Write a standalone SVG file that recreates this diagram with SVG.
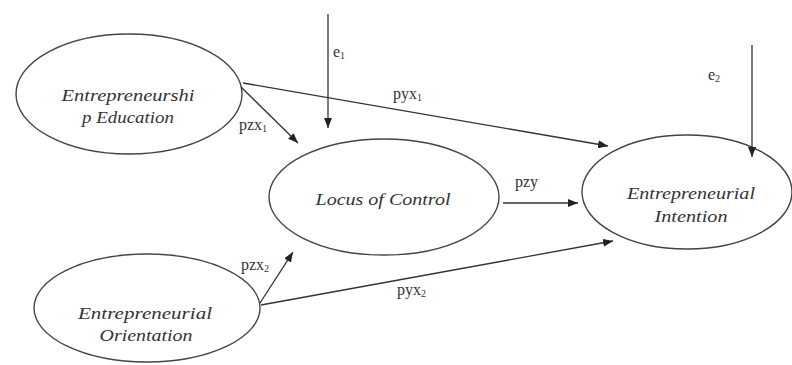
<svg xmlns="http://www.w3.org/2000/svg" width="792" height="365" viewBox="0 0 792 365">
<style>
.node ellipse{fill:none;stroke:#444;stroke-width:1.4}
.nt{font-family:"Liberation Serif","DejaVu Serif",serif;font-style:italic;font-size:17px;fill:#333;text-anchor:middle}
.lbl{font-family:"Liberation Serif","DejaVu Serif",serif;font-size:16px;fill:#333}
.sub{font-size:10px}
.edge{stroke:#333;stroke-width:1.3;fill:none;marker-end:url(#ah)}
</style>
<defs>
<marker id="ah" viewBox="0 0 10 8" refX="10" refY="4" markerWidth="10" markerHeight="8" markerUnits="userSpaceOnUse" orient="auto">
<path d="M0,0 L10,4 L0,8 z" fill="#222"/>
</marker>
</defs>
<rect width="792" height="365" fill="#fff"/>
<g id="n-education" class="node">
<ellipse cx="129" cy="94" rx="113" ry="60"/>
<text class="nt" x="128" y="101" textLength="133" lengthAdjust="spacingAndGlyphs">Entrepreneurshi</text>
<text class="nt" x="128" y="123" textLength="92" lengthAdjust="spacingAndGlyphs">p Education</text>
</g>
<g id="n-locus" class="node">
<ellipse cx="384" cy="197" rx="115" ry="58"/>
<text class="nt" x="383" y="205" textLength="135" lengthAdjust="spacingAndGlyphs">Locus of Control</text>
</g>
<g id="n-intention" class="node">
<ellipse cx="687" cy="192" rx="105" ry="57"/>
<text class="nt" x="691" y="199" textLength="128" lengthAdjust="spacingAndGlyphs">Entrepreneurial</text>
<text class="nt" x="691" y="222" textLength="73" lengthAdjust="spacingAndGlyphs">Intention</text>
</g>
<g id="n-orientation" class="node">
<ellipse cx="147" cy="308" rx="113" ry="54"/>
<text class="nt" x="145" y="319" textLength="134" lengthAdjust="spacingAndGlyphs">Entrepreneurial</text>
<text class="nt" x="146" y="341" textLength="93" lengthAdjust="spacingAndGlyphs">Orientation</text>
</g>
<g id="connectors">
<line class="edge" x1="328" y1="14" x2="328" y2="128"/>
<line class="edge" x1="752" y1="45" x2="752" y2="157"/>
<line class="edge" x1="243" y1="83" x2="608" y2="146"/>
<line class="edge" x1="241" y1="87" x2="298" y2="143"/>
<line class="edge" x1="503" y1="203" x2="578" y2="203"/>
<line class="edge" x1="260" y1="303" x2="293" y2="252"/>
<line class="edge" x1="261" y1="305" x2="613" y2="241"/>
<text class="lbl" x="333" y="57">e<tspan class="sub" dy="2">1</tspan></text>
<text class="lbl" x="708" y="80">e<tspan class="sub" dy="2">2</tspan></text>
<text class="lbl" x="393" y="99">pyx<tspan class="sub" dy="2">1</tspan></text>
<text class="lbl" x="239" y="130">pzx<tspan class="sub" dy="2">1</tspan></text>
<text class="lbl" x="515" y="187">pzy</text>
<text class="lbl" x="241" y="270">pzx<tspan class="sub" dy="2">2</tspan></text>
<text class="lbl" x="397" y="295">pyx<tspan class="sub" dy="2">2</tspan></text>
</g>
</svg>
